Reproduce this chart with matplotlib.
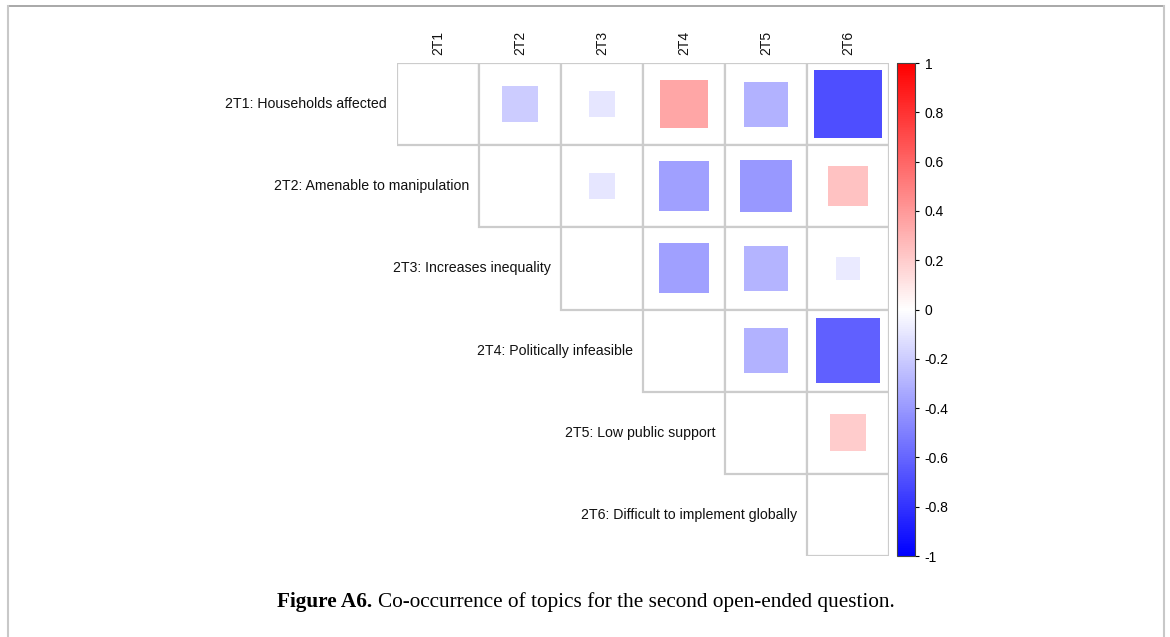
import numpy as np
import matplotlib.pyplot as plt
from matplotlib.colors import LinearSegmentedColormap, Normalize
from matplotlib.patches import Rectangle
from matplotlib.lines import Line2D
import matplotlib.cm as cm

plt.rcParams["font.family"] = ["Liberation Sans", "DejaVu Sans"]

codes = ["2T1", "2T2", "2T3", "2T4", "2T5", "2T6"]
row_labels = [
    "2T1: Households affected",
    "2T2: Amenable to manipulation",
    "2T3: Increases inequality",
    "2T4: Politically infeasible",
    "2T5: Low public support",
    "2T6: Difficult to implement globally",
]

# upper triangle co-occurrence values, one list per row (columns after the diagonal)
row1 = [-0.20, -0.10, 0.35, -0.30, -0.69]
row2 = [-0.10, -0.37, -0.40, 0.24]
row3 = [-0.37, -0.29, -0.08]
row4 = [-0.30, -0.62]
row5 = [0.20]
upper = [row1, row2, row3, row4, row5, []]

cbar_ticks = [-1, -0.8, -0.6, -0.4, -0.2, 0, 0.2, 0.4, 0.6, 0.8, 1]

W, H = 1170, 637
fig = plt.figure(figsize=(W / 100, H / 100), dpi=100)

# outer page frame (top, left, right)
fig.add_artist(Line2D(np.array([8, 1164]) / W, np.array([631, 631]) / H, color="#9a9a9a",
                      lw=1.2, transform=fig.transFigure))
fig.add_artist(Line2D(np.array([8, 8]) / W, np.array([0, 631]) / H, color="#c8c8c8",
                      lw=1.5, transform=fig.transFigure))
fig.add_artist(Line2D(np.array([1164, 1164]) / W, np.array([0, 631]) / H, color="#c8c8c8",
                      lw=1.5, transform=fig.transFigure))

cmap = LinearSegmentedColormap.from_list("bwr2", ["#0000ff", "#ffffff", "#ff0000"])
norm = Normalize(-1, 1)

x0, x1, y0, y1 = 397, 889, 63, 556
ax = fig.add_axes([x0 / W, (H - y1) / H, (x1 - x0) / W, (y1 - y0) / H])
ax.set_xlim(0, 6)
ax.set_ylim(6, 0)
ax.axis("off")

n = len(codes)
for i in range(n):
    for j in range(i, n):
        ax.add_patch(Rectangle((j, i), 1, 1, facecolor="white", edgecolor="#cccccc",
                               lw=1.6, zorder=1))
    for k, v in enumerate(upper[i]):
        j = i + 1 + k
        s = np.sqrt(abs(v))
        ax.add_patch(Rectangle((j + 0.5 - s / 2, i + 0.5 - s / 2), s, s,
                               facecolor=cmap(norm(v)), edgecolor="none", zorder=2))
    ax.text(i - 0.12, i + 0.5, row_labels[i], ha="right", va="center", fontsize=10.2,
            color="#111111")

for j, c in enumerate(codes):
    ax.text(j + 0.5, -0.1, c, rotation=90, ha="center", va="bottom", fontsize=10,
            color="#111111")

cax = fig.add_axes([897 / W, (H - y1) / H, 18 / W, (y1 - y0) / H])
cb = fig.colorbar(cm.ScalarMappable(norm=norm, cmap=cmap), cax=cax, ticks=cbar_ticks)
cb.ax.set_yticklabels([("%g" % t) for t in cbar_ticks], fontsize=10)
cb.ax.tick_params(length=3, width=0.8, pad=4)
cb.outline.set_linewidth(0.8)
cb.outline.set_edgecolor("#444444")

cap_y = (H - 602) / H
t1 = fig.text(277 / W, cap_y, "Figure A6.", fontsize=15.3, fontweight="bold",
              family="Liberation Serif", ha="left", va="center")
fig.canvas.draw()
bb = t1.get_window_extent()
fig.text((bb.x1 + 6) / W, cap_y, "Co-occurrence of topics for the second open-ended question.",
         fontsize=15.3, family="Liberation Serif", ha="left", va="center")

fig.savefig("out.png", dpi=100)
